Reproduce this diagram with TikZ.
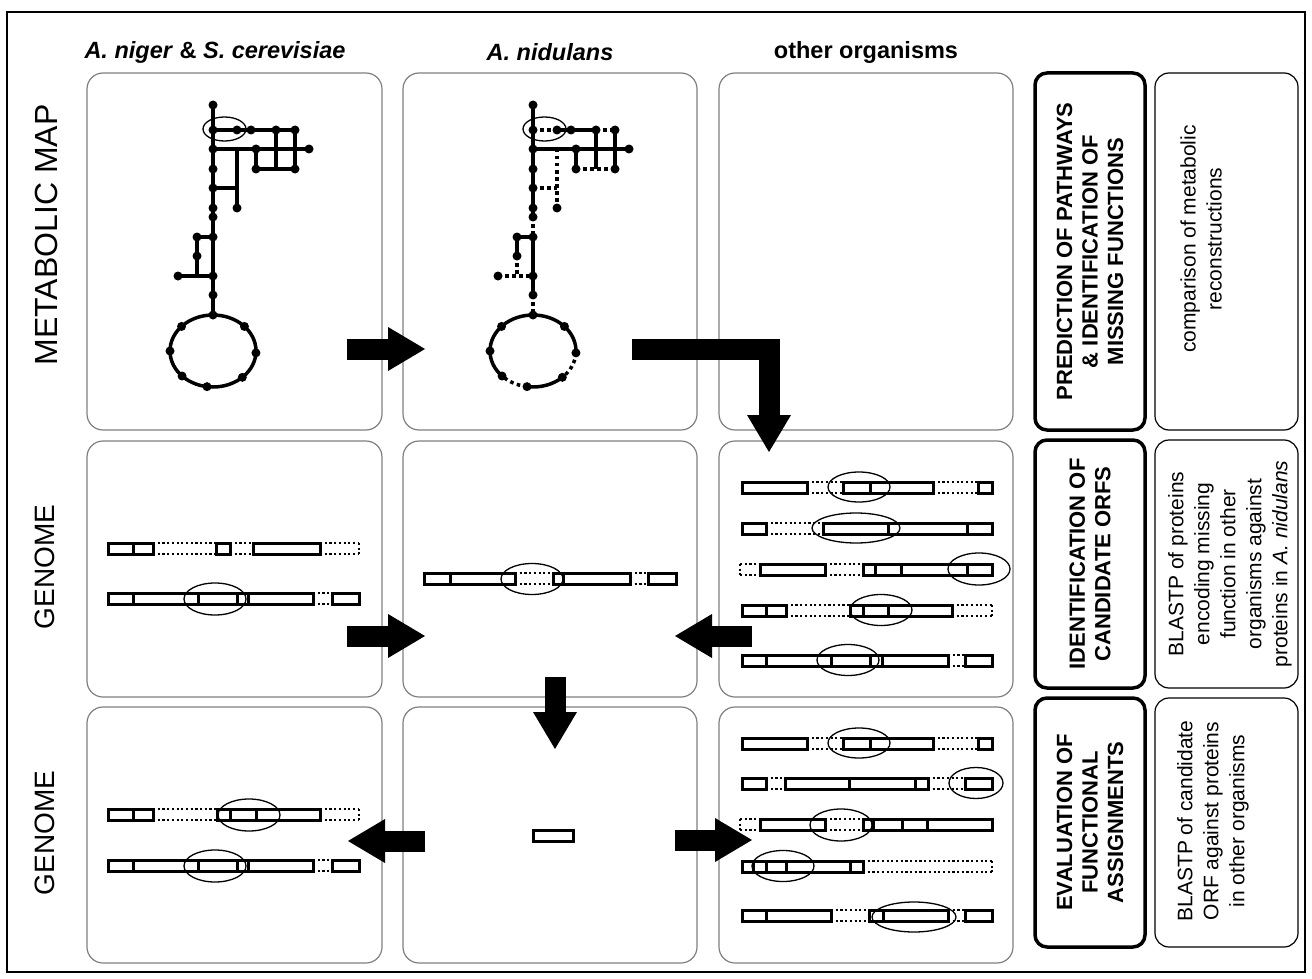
\documentclass[tikz,border=0pt]{standalone}
\usepackage{fontspec}
\setmainfont{Liberation Sans}
\usetikzlibrary{arrows.meta}

\tikzset{
  panel/.style={draw=black!50, line width=1.2pt, rounded corners=16pt, inner sep=0pt},
  stepbox/.style={draw, line width=3.5pt, rounded corners=12pt, inner sep=0pt, rotate=90,
    align=center, font=\bfseries\fontsize{22}{25.5}\selectfont},
  notebox/.style={draw, line width=1.2pt, rounded corners=14pt, inner sep=0pt},
  note/.style={rotate=90, align=center, font=\fontsize{21}{26}\selectfont},
  head/.style={font=\bfseries\fontsize{23.5}{27}\selectfont},
  side/.style={rotate=90, font=\fontsize{28}{32}\selectfont},
  rxn/.style={line width=3.5pt},
  missrxn/.style={line width=3.5pt, dash pattern=on 3.5pt off 3.5pt},
  orf/.style={line width=3pt},
  gapline/.style={line width=2.2pt, dash pattern=on 2.2pt off 2.5pt},
  hit/.style={line width=1.3pt},
  fat/.style={line width=21pt, -{Triangle[width=44pt,length=37pt,line width=0pt]}},
}

% y = top of bar, solid parts, dotted parts, dividers
\newcommand{\genebar}[4]{%
  \foreach \a/\b in {#2} \draw[orf] (\a,#1) rectangle (\b,#1+11);
  \foreach \a/\b in {#3} \draw[gapline] (\a,#1) -- (\b,#1) (\a,#1+11) -- (\b,#1+11);
  \foreach \a in {#4} \draw[orf] (\a,#1) -- (\a,#1+11);
}

\newcommand{\mapdots}{%
  \foreach \p in {(213,105),(213,130),(237,130),(251,130),(276,130),(295,130),
      (213,149),(256,149),(309,149),(256,169),(295,169),(213,169),(213,188),
      (237,208),(213,208),(213,217),(213,237),(197,237),(197,256),(178,276),
      (213,276),(213,295)}
    \fill \p circle[radius=4.5];
  \foreach \a in {-90,-137,-43,180,3,136,47,98}
    \fill (213,351) ++(\a:43 and 36) circle[radius=4.5];
  \draw[hit] (224.5,129) ellipse[x radius=21.5, y radius=12];
}

\begin{document}
\begin{tikzpicture}[x=1pt,y=-1pt]
  \useasboundingbox (0,0) rectangle (1312,979);
  \draw[line width=2pt] (7,12) rectangle (1305,972);

  % column heads and row labels
  \node[head] (h1) at (215,52) {\textit{A. niger} \& \textit{S. cerevisiae}};
  \node[head] (h2) at (550,52) {\textit{A. nidulans}};
  \node[head] (h3) at (866,52) {other organisms};
  \node[side, font=\fontsize{32}{36}\selectfont] (l1) at (46,235) {METABOLIC MAP};
  \node[side] (l2) at (45,567) {GENOME};
  \node[side] (l3) at (45,833) {GENOME};

  % panels
  \node[panel, minimum width=295pt, minimum height=357pt] (map1) at (234.5,251.5) {};
  \node[panel, minimum width=294pt, minimum height=357pt] (map2) at (550,251.5) {};
  \node[panel, minimum width=294pt, minimum height=357pt] (map3) at (866,251.5) {};
  \node[panel, minimum width=295pt, minimum height=256pt] (gen1) at (234.5,569) {};
  \node[panel, minimum width=294pt, minimum height=256pt] (gen2) at (550,569) {};
  \node[panel, minimum width=294pt, minimum height=256pt] (gen3) at (866,569) {};
  \node[panel, minimum width=295pt, minimum height=256pt] (eva1) at (234.5,835) {};
  \node[panel, minimum width=294pt, minimum height=256pt] (eva2) at (550,835) {};
  \node[panel, minimum width=294pt, minimum height=256pt] (eva3) at (866,835) {};

  % steps
  \node[stepbox, minimum width=357pt, minimum height=110pt] (s1) at (1090,251.5)
    {PREDICTION OF PATHWAYS\\ \& IDENTIFICATION OF\\ MISSING FUNCTIONS};
  \node[stepbox, minimum width=248pt, minimum height=110pt] (s2) at (1090,564)
    {IDENTIFICATION OF\\ CANDIDATE ORFS};
  \node[stepbox, minimum width=249pt, minimum height=110pt] (s3) at (1090,822.5)
    {EVALUATION OF\\ FUNCTIONAL\\ ASSIGNMENTS};
  \node[notebox, minimum width=143pt, minimum height=357pt] (n1) at (1226.5,251.5) {};
  \node[notebox, minimum width=143pt, minimum height=248pt] (n2) at (1226.5,564) {};
  \node[notebox, minimum width=143pt, minimum height=249pt] (n3) at (1226.5,822.5) {};
  \node[note] (t1) at (1201,239) {comparison of metabolic\\ reconstructions};
  \node[note] (t2) at (1230,564) {BLASTP of proteins\\ encoding missing\\ function in other\\
    organisms against\\ proteins in \textit{A. nidulans}};
  \node[note] (t3) at (1213,821) {BLASTP of candidate\\ ORF against proteins\\ in other organisms};

  % metabolic map, complete
  \draw[rxn] (213,105) -- (213,315)
    (213,130) -- (295,130)
    (213,149) -- (309,149)
    (237,149) -- (237,208)
    (256,149) -- (256,169) -- (295,169)
    (276,130) -- (276,169)
    (295,130) -- (295,169)
    (213,188) -- (237,188)
    (213,237) -- (197,237) -- (197,276)
    (178,276) -- (213,276);
  \draw[rxn] (213,351) ellipse[x radius=43, y radius=36];
  \mapdots

  % metabolic map with missing steps
  \begin{scope}[shift={(320,0)}]
    \draw[rxn] (213,105) -- (213,217) (213,237) -- (213,295)
      (237,130) -- (276,130)
      (213,149) -- (309,149)
      (256,149) -- (256,169)
      (276,130) -- (276,169)
      (295,130) -- (295,169)
      (213,237) -- (197,237) -- (197,256);
    \draw[missrxn] (213,130) -- (237,130) (276,130) -- (295,130)
      (237,149) -- (237,208) (256,169) -- (295,169) (213,188) -- (237,188)
      (213,217) -- (213,237) (213,295) -- (213,315)
      (197,256) -- (197,276) (178,276) -- (213,276);
    \draw[rxn] (213,351) ++(47:43 and 36) arc[start angle=47, end angle=98, x radius=43, y radius=36];
    \draw[rxn] (213,351) ++(136:43 and 36) arc[start angle=136, end angle=363, x radius=43, y radius=36];
    \draw[missrxn] (213,351) ++(98:43 and 36) arc[start angle=98, end angle=136, x radius=43, y radius=36];
    \draw[missrxn] (213,351) ++(3:43 and 36) arc[start angle=3, end angle=47, x radius=43, y radius=36];
    \mapdots
  \end{scope}

  % genomes, row 2
  \genebar{543}{108/153, 216/230, 253/320}{153/216, 230/253, 320/359}{133}
  \draw[gapline] (359,543) -- ++(0,11);
  \genebar{593}{108/313, 332/359}{313/332}{133,198,237,248}
  \draw[hit] (215,599) ellipse[x radius=31, y radius=16];

  \genebar{573}{424/515, 553/630, 648/676}{515/553, 630/648}{450,563}
  \draw[hit] (532,579) ellipse[x radius=31, y radius=15.5];

  \genebar{482}{742/807, 843/933, 978/992}{807/843, 933/978}{870}
  \draw[hit] (859,487) ellipse[x radius=31, y radius=15];
  \genebar{523}{742/766, 823/992}{766/823}{888,967}
  \draw[hit] (856,528) ellipse[x radius=44, y radius=15];
  \genebar{564}{760/825, 863/992}{740/760, 825/863}{875,901,967}
  \draw[gapline] (740,564) -- ++(0,11);
  \draw[hit] (979,569) ellipse[x radius=31, y radius=16];
  \genebar{605}{742/786, 850/952}{786/850, 952/992}{766,863,888}
  \draw[gapline] (992,605) -- ++(0,11);
  \draw[hit] (881,610) ellipse[x radius=31, y radius=15.5];
  \genebar{655}{742/948, 965/992}{948/965}{766,831,870,882}
  \draw[hit] (848,660) ellipse[x radius=31, y radius=15.5];

  % genomes, row 3
  \genebar{809}{108/153, 217/320}{153/217, 320/359}{133,230,256}
  \draw[gapline] (359,809) -- ++(0,11);
  \draw[hit] (249,815) ellipse[x radius=31, y radius=16];
  \genebar{860}{108/313, 332/359}{313/332}{133,198,237,248}
  \draw[hit] (215,866) ellipse[x radius=31, y radius=16];

  \draw[orf] (533,830) rectangle (573,841);

  \genebar{738}{742/807, 843/933, 978/992}{807/843, 933/978}{870}
  \draw[hit] (859,743) ellipse[x radius=31, y radius=15];
  \genebar{778}{742/766, 785/928, 965/992}{766/785, 928/965}{849,915}
  \draw[hit] (976,783) ellipse[x radius=27, y radius=15.5];
  \genebar{819}{760/825, 863/992}{740/760, 825/863}{873,902,927}
  \draw[gapline] (740,819) -- ++(0,11);
  \draw[hit] (841,825) ellipse[x radius=31, y radius=16];
  \genebar{861}{742/863}{863/992}{753,766,786,850}
  \draw[gapline] (992,861) -- ++(0,11);
  \draw[hit] (783,866) ellipse[x radius=31, y radius=15.5];
  \genebar{910}{742/831, 869/948, 965/992}{831/869, 948/965}{766,883}
  \draw[hit] (914,917) ellipse[x radius=42, y radius=15];

  % flow arrows
  \coordinate (a1s) at (347,349);  \coordinate (a1e) at (425,349);
  \coordinate (a2s) at (632,349);  \coordinate (a2e) at (769,452);
  \coordinate (a3s) at (347,636);  \coordinate (a3e) at (425,636);
  \coordinate (a4s) at (752,636);  \coordinate (a4e) at (675,636);
  \coordinate (a5s) at (555,677);  \coordinate (a5e) at (555,749);
  \coordinate (a6s) at (425,841);  \coordinate (a6e) at (348,841);
  \coordinate (a7s) at (675,840);  \coordinate (a7e) at (752,840);
  \draw[fat] (a1s) -- (a1e);
  \draw[fat] (a2s) -| (a2e);
  \draw[fat] (a3s) -- (a3e);
  \draw[fat] (a4s) -- (a4e);
  \draw[fat] (a5s) -- (a5e);
  \draw[fat] (a6s) -- (a6e);
  \draw[fat] (a7s) -- (a7e);
\end{tikzpicture}
\end{document}
